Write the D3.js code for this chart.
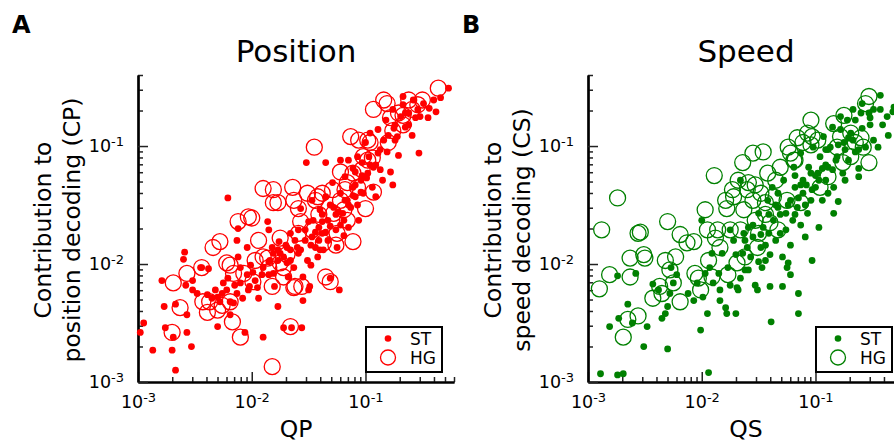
<!DOCTYPE html>
<html>
<head>
<meta charset="utf-8">
<script src="https://cdn.jsdelivr.net/npm/d3@7"></script>
<style>
  body { margin: 0; background: #fff; }
  text { font-family: "DejaVu Sans", sans-serif; }
</style>
</head>
<body>
<div id="container"></div>
<script>
// values, stored as [log10(x), log10(y)]
const posST = [[-2.98,-2.58],[-2.95,-2.50],[-2.87,-2.73],[-2.79,-2.14],[-2.77,-2.36],[-2.76,-2.54],[-2.70,-2.73],[-2.69,-2.62],
  [-2.67,-2.90],[-2.67,-2.34],[-2.60,-1.96],[-2.59,-1.90],[-2.58,-2.18],[-2.57,-2.43],[-2.57,-2.58],[-2.53,-2.70],
  [-2.52,-2.14],[-2.52,-2.22],[-2.48,-2.25],[-2.45,-2.03],[-2.44,-2.03],[-2.39,-2.26],[-2.38,-2.04],[-2.35,-2.29],
  [-2.30,-2.53],[-2.30,-2.28],[-2.28,-2.32],[-2.26,-2.25],[-2.25,-2.16],[-2.22,-2.22],[-2.19,-2.43],[-2.19,-2.32],
  [-2.21,-1.44],[-2.16,-2.33],[-2.15,-2.18],[-2.13,-2.25],[-2.12,-1.70],[-2.13,-1.80],[-2.12,-1.94],[-2.10,-2.03],
  [-2.08,-2.29],[-2.06,-2.58],[-2.04,-1.86],[-2.04,-2.09],[-2.03,-2.22],[-2.02,-2.19],[-1.99,-2.07],[-1.97,-2.14],
  [-1.95,-2.20],[-1.90,-2.62],[-1.90,-2.03],[-1.86,-1.64],[-1.85,-1.71],[-1.84,-1.97],[-1.82,-1.86],[-1.81,-1.91],
  [-1.81,-2.08],[-1.80,-2.19],[-1.77,-2.36],[-1.76,-1.81],[-1.75,-1.91],[-1.72,-2.54],[-1.72,-1.94],[-1.69,-1.86],
  [-1.69,-1.99],[-1.68,-2.11],[-1.66,-1.74],[-1.65,-2.54],[-1.63,-2.03],[-1.60,-1.86],[-1.59,-1.91],[-1.57,-1.53],
  [-1.56,-2.54],[-1.55,-2.11],[-1.55,-2.31],[-1.53,-1.71],[-1.52,-1.14],[-1.51,-1.97],[-1.50,-2.22],[-1.49,-2.19],
  [-1.47,-1.77],[-1.47,-1.46],[-1.46,-1.63],[-1.44,-1.86],[-1.42,-1.94],[-1.41,-1.69],[-1.40,-1.54],[-1.38,-1.74],
  [-1.37,-1.88],[-1.35,-1.14],[-1.35,-1.43],[-1.33,-1.63],[-1.33,-1.80],[-1.31,-2.12],[-1.29,-1.31],[-1.28,-1.52],
  [-1.26,-1.71],[-1.25,-1.86],[-1.23,-2.22],[-1.22,-1.12],[-1.22,-1.40],[-1.20,-1.57],[-1.19,-1.63],[-1.18,-1.26],
  [-1.16,-1.46],[-1.15,-1.69],[-1.13,-1.52],[-1.11,-1.19],[-1.11,-1.35],[-1.09,-1.43],[-1.07,-1.09],[-1.06,-1.63],
  [-1.04,-1.29],[-1.03,-1.14],[-1.02,-1.40],[-1.00,-0.97],[-0.98,-1.23],[-0.97,-1.09],[-0.96,-0.89],[-0.94,-1.35],
  [-0.93,-1.18],[-0.91,-1.43],[-0.89,-0.86],[-0.89,-1.06],[-0.87,-1.20],[-0.85,-1.29],[-0.84,-0.95],[-0.82,-0.78],
  [-0.81,-1.05],[-0.78,-1.22],[-0.76,-1.33],[-0.76,-0.69],[-0.75,-0.85],[-0.72,-0.92],[-0.71,-1.08],[-0.69,-0.75],
  [-0.67,-0.65],[-0.67,-0.58],[-0.65,-0.84],[-0.62,-0.72],[-0.59,-0.91],[-0.58,-0.61],[-0.54,-0.69],[-0.53,-1.06],
  [-0.52,-0.75],[-0.49,-0.64],[-0.45,-0.76],[-0.44,-0.68],[-0.40,-0.61],[-0.38,-0.71],[-0.34,-0.59],[-0.27,-0.51],
  [-1.53,-1.80],[-1.48,-1.84],[-1.41,-1.80],[-1.35,-1.73],[-1.31,-1.68],[-1.40,-1.88],[-1.57,-1.88],[-1.62,-1.80],
  [-1.70,-1.84],[-1.77,-1.97],[-1.85,-1.98],[-1.91,-2.09],[-1.66,-1.97],[-1.48,-2.01],[-1.18,-1.46],[-1.11,-1.42],
  [-1.07,-1.50],[-1.04,-1.39],[-1.24,-1.56],[-1.19,-1.76],[-0.99,-1.27],[-0.91,-1.16],[-0.87,-1.03],[-0.80,-0.91],
  [-0.74,-0.82],[-0.65,-0.72],[-0.56,-0.76],[-1.09,-1.22],[-1.15,-1.12],[-1.31,-1.50],[-1.38,-1.58],[-2.01,-2.01],
  [-2.10,-2.16],[-1.94,-2.29],[-2.32,-2.22],[-2.21,-2.12],
  [-1.44,-1.73],[-1.38,-1.64],[-1.26,-1.58],[-1.15,-1.50],[-1.09,-1.33],[-1.03,-1.25],[-0.96,-1.16],[-1.50,-1.64],
  [-1.59,-1.71],[-1.66,-1.88],[-1.77,-1.88],[-1.85,-2.09],[-1.22,-1.67],[-0.74,-0.95],[-0.62,-0.82]];

const posHG = [[-2.69,-2.16],[-2.63,-2.37],[-2.70,-2.58],[-2.57,-2.08],[-2.44,-2.03],[-2.43,-2.32],[-2.39,-2.41],[-2.34,-1.86],
  [-2.28,-1.81],[-2.26,-2.35],[-2.22,-1.99],[-2.19,-2.32],[-2.17,-2.49],[-2.12,-1.64],[-2.10,-2.62],[-2.07,-2.08],
  [-2.03,-1.60],[-2.00,-1.61],[-1.99,-2.15],[-1.94,-1.80],[-1.90,-1.36],[-1.86,-1.95],[-1.85,-2.03],[-1.82,-2.19],
  [-1.81,-1.37],[-1.81,-1.48],[-1.77,-1.48],[-1.75,-1.99],[-1.72,-2.11],[-1.69,-1.92],[-1.66,-2.53],[-1.64,-1.35],
  [-1.63,-1.46],[-1.62,-2.19],[-1.59,-1.53],[-1.59,-1.74],[-1.56,-2.19],[-1.51,-1.40],[-1.47,-1.71],[-1.45,-1.01],
  [-1.42,-1.43],[-1.38,-1.40],[-1.37,-1.82],[-1.35,-2.11],[-1.31,-2.15],[-1.29,-1.37],[-1.28,-1.57],[-1.26,-1.84],
  [-1.25,-1.74],[-1.22,-1.22],[-1.19,-1.54],[-1.16,-1.63],[-1.13,-0.92],[-1.11,-1.23],[-1.11,-1.81],[-1.07,-1.35],
  [-1.06,-0.95],[-1.02,-1.09],[-1.00,-1.53],[-0.98,-0.95],[-0.96,-0.97],[-0.94,-1.10],[-0.93,-1.39],[-0.93,-0.69],
  [-0.84,-0.61],[-0.81,-0.64],[-0.80,-0.97],[-0.78,-0.76],[-0.71,-0.72],[-0.67,-0.82],[-0.67,-0.74],[-0.62,-0.61],
  [-0.59,-0.69],[-0.54,-0.65],[-0.50,-0.61],[-0.36,-0.51],[-1.82,-2.87],[-1.63,-2.20],[-1.72,-2.03],[-1.90,-1.94],
  [-2.19,-2.01],[-2.16,-2.08],[-1.44,-1.46],[-1.22,-1.46],[-1.16,-1.31],[-0.98,-1.12],[-2.37,-2.32],[-2.30,-2.39],
  [-1.41,-1.58],[-1.57,-1.64],[-1.18,-1.37],[-1.03,-1.20],[-1.75,-1.78],[-1.97,-1.97],[-0.76,-0.87]];

const spdST = [[-2.89,-2.93],[-2.81,-2.53],[-2.74,-2.94],[-2.69,-2.93],[-2.74,-2.10],[-2.73,-2.46],[-2.65,-2.34],[-2.61,-2.50],
  [-2.58,-2.08],[-2.51,-2.70],[-2.48,-2.53],[-2.43,-2.17],[-2.38,-2.22],[-2.35,-2.46],[-2.32,-2.42],[-2.30,-2.36],
  [-2.30,-2.72],[-2.28,-2.25],[-2.27,-2.03],[-2.25,-2.16],[-2.22,-2.09],[-2.12,-2.25],[-2.07,-2.31],[-2.04,-2.16],
  [-2.01,-2.56],[-2.00,-1.63],[-1.99,-2.28],[-1.97,-2.08],[-1.95,-2.42],[-1.94,-2.92],[-1.93,-2.03],[-1.91,-1.91],
  [-1.90,-2.16],[-1.85,-2.08],[-1.84,-2.22],[-1.82,-1.91],[-1.79,-2.37],[-1.78,-2.42],[-1.77,-2.03],[-1.75,-1.71],
  [-1.72,-1.80],[-1.70,-2.42],[-1.69,-2.20],[-1.68,-2.22],[-1.66,-1.29],[-1.64,-1.91],[-1.63,-1.74],[-1.62,-2.05],
  [-1.60,-1.86],[-1.59,-1.69],[-1.57,-1.94],[-1.55,-1.77],[-1.53,-2.18],[-1.51,-2.22],[-1.50,-1.57],[-1.48,-1.86],
  [-1.47,-2.03],[-1.46,-1.69],[-1.44,-1.97],[-1.42,-1.46],[-1.41,-1.74],[-1.40,-2.19],[-1.39,-2.49],[-1.38,-1.35],
  [-1.37,-1.63],[-1.33,-1.52],[-1.33,-1.40],[-1.31,-1.74],[-1.29,-2.19],[-1.29,-1.94],[-1.28,-1.29],[-1.26,-1.57],
  [-1.25,-2.03],[-1.24,-1.99],[-1.22,-2.09],[-1.22,-1.46],[-1.20,-1.63],[-1.19,-1.18],[-1.18,-1.35],[-1.16,-1.52],
  [-1.15,-2.25],[-1.15,-2.42],[-1.13,-1.06],[-1.11,-1.40],[-1.11,-1.29],[-1.09,-1.77],[-1.07,-1.57],[-1.06,-1.18],
  [-1.04,-1.46],[-1.03,-1.97],[-1.02,-1.01],[-1.00,-1.35],[-0.98,-1.23],[-0.97,-1.69],[-0.96,-1.09],[-0.94,-1.46],
  [-0.93,-0.92],[-0.91,-1.29],[-0.89,-1.40],[-0.89,-1.18],[-0.87,-1.01],[-0.85,-0.84],[-0.84,-1.57],[-0.84,-1.35],
  [-0.81,-1.09],[-0.80,-1.47],[-0.78,-0.75],[-0.76,-1.23],[-0.75,-0.97],[-0.74,-1.29],[-0.72,-0.78],[-0.71,-1.12],
  [-0.69,-0.89],[-0.67,-0.69],[-0.65,-1.05],[-0.62,-1.19],[-0.62,-1.26],[-0.60,-0.72],[-0.59,-0.64],[-0.56,-1.01],
  [-0.53,-0.72],[-0.49,-0.69],[-0.45,-1.01],[-0.43,-0.57],[-0.41,-0.82],[-0.37,-0.75],[-0.36,-0.91],[-0.32,-0.71],
  [-0.31,-0.67],
  [-1.35,-1.80],[-1.26,-1.71],[-1.18,-1.58],[-1.09,-1.50],[-1.03,-1.37],[-0.97,-1.29],[-0.91,-1.16],[-0.82,-1.12],
  [-0.74,-1.03],[-0.67,-0.95],[-1.22,-1.84],[-1.13,-1.67],[-1.40,-1.92],[-1.50,-1.98],[-1.59,-2.05],[-1.66,-2.12],
  [-1.75,-2.18],[-1.84,-2.31],[-1.18,-1.25],[-1.04,-1.23],[-0.89,-1.03],[-0.78,-0.86],[-0.65,-0.78],[-0.52,-0.82],
  [-0.43,-0.69],[-1.48,-1.75],[-1.55,-1.67],
  [-1.31,-1.58],[-1.24,-1.50],[-1.15,-1.44],[-1.08,-1.33],[-1.00,-1.25],[-0.94,-1.19],[-0.85,-1.20],[-0.80,-0.99],
  [-0.71,-0.93],[-0.59,-0.85],[-0.52,-0.76],[-1.13,-1.33],[-1.35,-1.50],[-1.41,-1.58],[-1.44,-1.84],[-1.62,-1.80],
  [-1.70,-1.92],[-0.91,-1.03],[-0.62,-1.03],[-0.49,-0.95]];

const spdHG = [[-2.90,-2.21],[-2.88,-1.71],[-2.81,-2.09],[-2.74,-1.44],[-2.69,-2.62],[-2.65,-2.47],[-2.63,-1.95],[-2.63,-2.11],
  [-2.56,-2.44],[-2.56,-1.74],[-2.54,-1.73],[-2.51,-1.92],[-2.50,-1.95],[-2.43,-2.29],[-2.37,-2.19],[-2.35,-2.25],
  [-2.32,-1.97],[-2.30,-1.64],[-2.28,-2.05],[-2.25,-2.16],[-2.23,-1.94],[-2.19,-1.75],[-2.19,-2.32],[-2.13,-1.82],
  [-2.07,-1.81],[-2.06,-2.08],[-2.03,-2.12],[-2.01,-2.22],[-1.97,-1.54],[-1.95,-1.71],[-1.94,-1.97],[-1.91,-2.11],
  [-1.89,-1.25],[-1.88,-1.78],[-1.86,-1.71],[-1.84,-1.86],[-1.79,-1.46],[-1.78,-1.53],[-1.77,-2.09],[-1.75,-1.71],
  [-1.73,-1.37],[-1.72,-1.43],[-1.69,-1.99],[-1.68,-1.29],[-1.66,-1.71],[-1.64,-1.14],[-1.63,-1.54],[-1.62,-1.94],
  [-1.60,-1.37],[-1.59,-1.31],[-1.55,-1.06],[-1.55,-1.46],[-1.53,-1.63],[-1.51,-1.86],[-1.50,-1.74],[-1.48,-1.40],
  [-1.46,-1.05],[-1.44,-1.48],[-1.42,-1.23],[-1.40,-1.65],[-1.37,-1.43],[-1.33,-1.71],[-1.31,-1.18],[-1.25,-1.46],
  [-1.24,-1.01],[-1.22,-1.06],[-1.19,-1.12],[-1.16,-0.93],[-1.13,-1.48],[-1.11,-0.97],[-1.07,-0.89],[-1.04,-0.78],
  [-1.03,-0.92],[-0.98,-0.95],[-0.96,-1.35],[-0.89,-1.26],[-0.84,-0.81],[-0.81,-1.01],[-0.78,-0.92],[-0.76,-1.14],
  [-0.75,-0.74],[-0.69,-1.09],[-0.65,-0.97],[-0.60,-0.93],[-0.58,-1.01],[-0.56,-0.64],[-0.53,-1.14],[-0.53,-0.58],
  [-1.53,-1.33],[-1.35,-1.29],[-1.18,-1.12],[-1.44,-1.58],[-1.04,-0.99],[-0.69,-0.89]];

const xDomain = [1e-3, 0.6];
const yDomain = [1e-3, 0.4];
const majorTicks = [1e-3, 1e-2, 1e-1];

const panels = [
  { letter: "A", title: "Position", xLabel: "QP", yLabel: ["Contribution to", "position decoding (CP)"],
    st: posST, hg: posHG, color: "#ff0000", left: 138 },
  { letter: "B", title: "Speed", xLabel: "QS", yLabel: ["Contribution to", "speed decoding (CS)"],
    st: spdST, hg: spdHG, color: "#008000", left: 588 }
];

const W = 894, H = 443;
const plotTop = 75, width = 316, height = 307;

const svg = d3.select("#container")
  .append("svg")
  .attr("width", W)
  .attr("height", H);

function powerLabels(sel) {
  sel.each(function (d) {
    const t = d3.select(this).text(null);
    t.append("tspan").text("10");
    t.append("tspan").attr("dy", -6.5).attr("font-size", 13).text(Math.round(Math.log10(d)));
  });
}

panels.forEach(p => {
  const g = svg.append("g").attr("transform", `translate(${p.left}, ${plotTop})`);

  const x = d3.scaleLog().domain(xDomain).range([0, width]);
  const y = d3.scaleLog().domain(yDomain).range([height, 0]);

  const minorX = x.ticks().filter(v => !majorTicks.includes(v) && v <= xDomain[1]);
  const minorY = y.ticks().filter(v => !majorTicks.includes(v) && v <= yDomain[1]);

  // minor ticks (inward)
  g.append("g")
    .attr("transform", `translate(0, ${height})`)
    .call(d3.axisBottom(x).tickValues(minorX).tickSizeInner(-5).tickSizeOuter(0).tickFormat(""));
  g.append("g")
    .call(d3.axisLeft(y).tickValues(minorY).tickSizeInner(-5).tickSizeOuter(0).tickFormat(""));

  // major ticks with 10^k labels
  const xAxis = g.append("g")
    .attr("transform", `translate(0, ${height})`)
    .call(d3.axisBottom(x).tickValues(majorTicks).tickSizeInner(-10).tickSizeOuter(0).tickPadding(14));
  const yAxis = g.append("g")
    .call(d3.axisLeft(y).tickValues(majorTicks).tickSizeInner(-10).tickSizeOuter(0).tickPadding(14));

  [xAxis, yAxis].forEach(a => {
    a.selectAll("text").attr("font-size", 17.5).attr("font-family", "DejaVu Sans").attr("fill", "#000").call(powerLabels);
  });

  g.selectAll(".tick line").attr("stroke", "#222").attr("stroke-width", 1.5);
  g.selectAll(".domain").attr("stroke", "#000").attr("stroke-width", 2.2);

  // ST dots
  g.append("g").selectAll("circle")
    .data(p.st)
    .enter()
    .append("circle")
    .attr("cx", d => x(10 ** d[0]))
    .attr("cy", d => y(10 ** d[1]))
    .attr("r", 3.4)
    .attr("fill", p.color);

  // HG open circles
  g.append("g").selectAll("circle")
    .data(p.hg)
    .enter()
    .append("circle")
    .attr("cx", d => x(10 ** d[0]))
    .attr("cy", d => y(10 ** d[1]))
    .attr("r", 8)
    .attr("fill", "none")
    .attr("stroke", p.color)
    .attr("stroke-width", 1.3);

  // legend
  const lg = g.append("g").attr("transform", `translate(228, 252)`);
  lg.append("rect")
    .attr("width", 76).attr("height", 45)
    .attr("fill", "#fff").attr("stroke", "#000").attr("stroke-width", 2);
  lg.append("circle").attr("cx", 22).attr("cy", 11.5).attr("r", 3.3).attr("fill", p.color);
  lg.append("circle").attr("cx", 22).attr("cy", 30.5).attr("r", 7.5).attr("fill", "none")
    .attr("stroke", p.color).attr("stroke-width", 1.3);
  lg.append("text").attr("x", 44).attr("y", 18).attr("font-size", 17).text("ST");
  lg.append("text").attr("x", 44).attr("y", 37).attr("font-size", 17).text("HG");

  // title and axis labels
  g.append("text")
    .attr("x", width / 2).attr("y", 62 - plotTop)
    .attr("text-anchor", "middle").attr("font-size", 31)
    .text(p.title);
  g.append("text")
    .attr("x", width / 2).attr("y", 437 - plotTop)
    .attr("text-anchor", "middle").attr("font-size", 23.5)
    .text(p.xLabel);
  p.yLabel.forEach((line, i) => {
    g.append("text")
      .attr("transform", `translate(${51 + i * 29 - 138}, ${230 - plotTop}) rotate(-90)`)
      .attr("text-anchor", "middle").attr("font-size", 23.5)
      .text(line);
  });

  svg.append("text")
    .attr("x", p.left - 126).attr("y", 33)
    .attr("font-size", 24).attr("font-weight", "bold")
    .text(p.letter);
});
</script>
</body>
</html>
